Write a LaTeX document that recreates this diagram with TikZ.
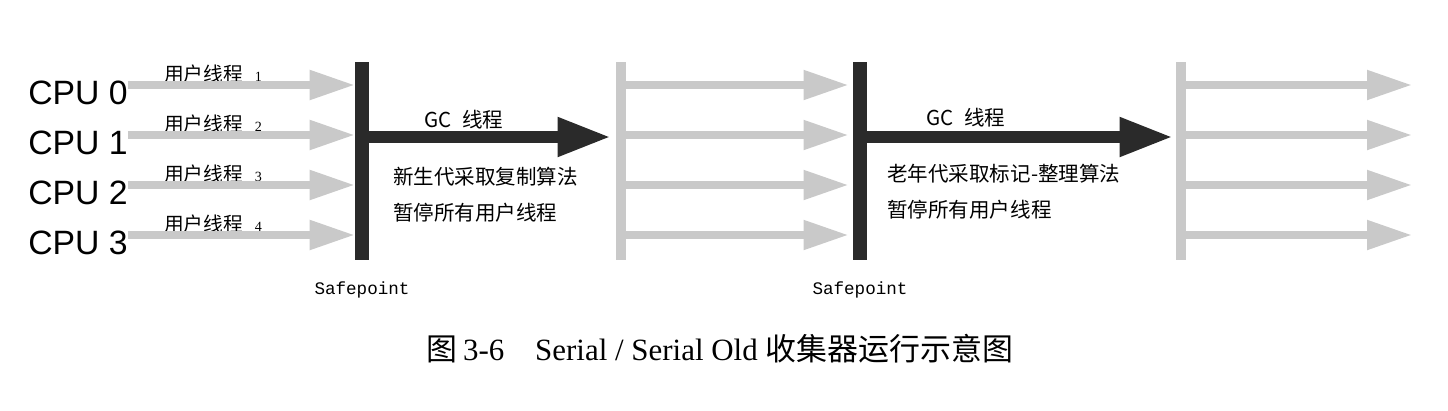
\documentclass[tikz,border=0pt]{standalone}
\usepackage{fontspec}
\setmainfont{Liberation Serif}
\setsansfont{Liberation Sans}
\setmonofont{Liberation Mono}
\newfontfamily\cjk{Noto Sans CJK SC}
\usetikzlibrary{positioning,arrows.meta}
\definecolor{barblack}{HTML}{2A2A2A}
\definecolor{threadgray}{HTML}{C9C9C9}

\begin{document}
\begin{tikzpicture}[x=0.025cm, y=-0.025cm,
  cpu/.style={font=\sffamily\fontsize{24}{24}\selectfont, anchor=west, inner sep=0pt},
  tlabel/.style={font=\cjk\fontsize{14}{14}\selectfont, anchor=west, inner sep=0pt},
  note/.style={font=\cjk\fontsize{14.6}{14.6}\selectfont, anchor=west, inner sep=0pt},
  spbar/.style={fill=barblack, inner sep=0pt, minimum width=0.35cm, minimum height=4.925cm},
  runbar/.style={fill=threadgray, inner sep=0pt, minimum width=0.25cm, minimum height=4.925cm},
  thread/.style={threadgray, line width=5.5pt, -{Triangle[length=32pt,width=20pt]}},
  gc/.style={barblack, line width=8.5pt, -{Triangle[length=38pt,width=26pt]}},
  sptext/.style={font=\ttfamily\fontsize{12.5}{12.5}\selectfont, inner sep=0pt},
]
\useasboundingbox (0,0) rectangle (1448,410);

% safepoint bars and the gray bars where user threads resume
\node[spbar] (sp1) at (362,161) {};
\node[spbar] (sp2) at (860,161) {};
\node[runbar] (run1) at (621,161) {};
\node[runbar] (run2) at (1181,161) {};

\node[sptext, below=0.55cm of sp1] (safe1) {Safepoint};
\node[sptext, below=0.55cm of sp2] (safe2) {Safepoint};

% user threads
\foreach \i/\y in {0/85,1/135,2/185,3/235} {
  \coordinate (row\i) at (0,\y);
  \node[cpu] (cpu\i) at (28,\y+8) {CPU \i};
  \node[tlabel] (user\i) at (164,\y-11) {用户线程\hspace{0.6em}{\rmfamily\fontsize{10}{10}\selectfont\the\numexpr\i+1\relax}};
  \draw[thread] (cpu\i.east |- row\i) -- (sp1.west |- row\i);
  \draw[thread] (run1.east |- row\i) -- ([xshift=-3pt]sp2.west |- row\i);
  \draw[thread] (run2.east |- row\i) -- (1412,\y);
}

% GC threads
\coordinate (gc1end) at (611,137);
\coordinate (gc2end) at (1173,137);
\draw[gc] (sp1.east |- gc1end) -- (gc1end);
\draw[gc] (sp2.east |- gc2end) -- (gc2end);

\node[note, anchor=center] (gclabel1) at (464,120) {GC\hspace{0.5em}线程};
\node[note, anchor=center] (gclabel2) at (966,118) {GC\hspace{0.5em}线程};
\node[note] (young) at (393,177) {新生代采取复制算法};
\node[note] (pause1) at (393,213) {暂停所有用户线程};
\node[note] (old) at (887,174) {老年代采取标记-整理算法};
\node[note] (pause2) at (887,210) {暂停所有用户线程};

% caption
\node[font=\fontsize{22}{22}\selectfont, inner sep=0pt] (caption) at (720,349)
  {{\cjk 图}\,3-6\hspace{1em}Serial / Serial Old {\cjk 收集器运行示意图}};
\end{tikzpicture}
\end{document}
